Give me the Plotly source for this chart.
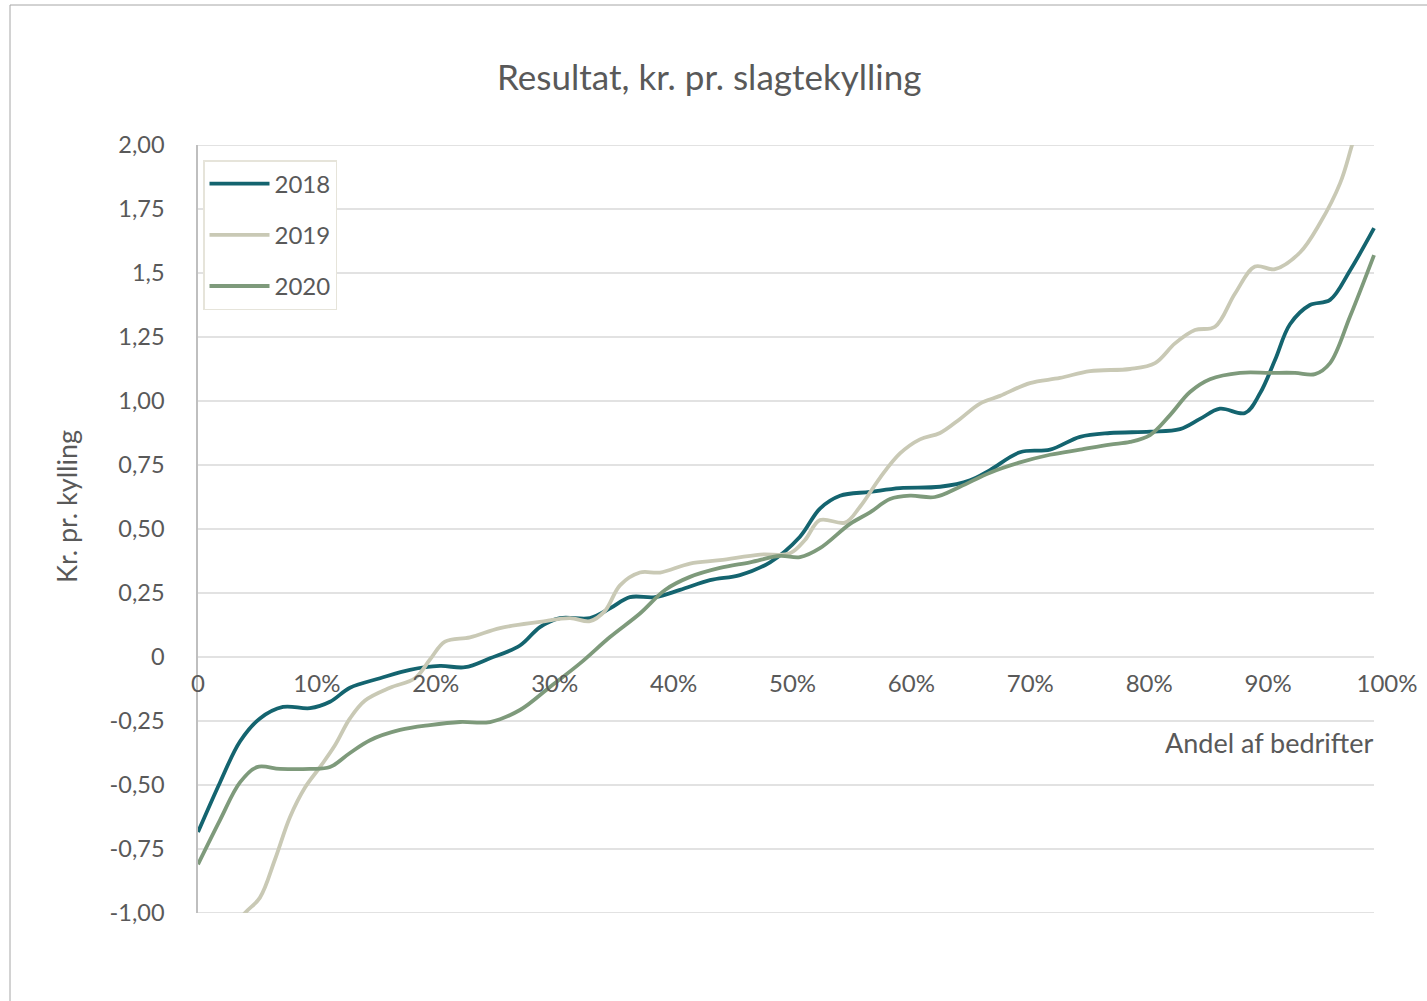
import plotly.graph_objects as go

# ---- data (x = share of farms in %, y = kr. per chicken) ----
x2018 = [0, 1.85, 3.53, 5.21, 7.15, 9.42, 11.10, 12.78, 15.31, 17.83, 20.35, 22.46, 24.56,
         27.08, 28.76, 30.45, 32.97, 34.65, 36.33, 38.44, 40.54, 43.06, 45.58, 48.11, 50.63,
         52.31, 54.0, 56.52, 59.04, 62.41, 64.93, 66.61, 69.13, 71.66, 74.18, 76.70, 80.07,
         82.59, 84.27, 85.95, 88.06, 89.32, 90.58, 91.84, 93.52, 95.21, 96.89, 98.91]
y2018 = [-0.684, -0.49, -0.33, -0.24, -0.195, -0.20, -0.175, -0.12, -0.083, -0.05, -0.035, -0.04,
         -0.005, 0.045, 0.117, 0.152, 0.152, 0.19, 0.234, 0.234, 0.262, 0.30, 0.32, 0.37, 0.47,
         0.58, 0.63, 0.645, 0.66, 0.665, 0.69, 0.73, 0.80, 0.81, 0.86, 0.875, 0.88,
         0.89, 0.93, 0.97, 0.953, 1.03, 1.16, 1.30, 1.375, 1.395, 1.51, 1.675]

x2019 = [0, 2.0, 3.95, 5.21, 6.48, 7.74, 9.0, 10.26, 11.52, 12.78, 14.05, 16.15, 18.25, 19.51,
         20.77, 22.88, 25.40, 28.76, 31.29, 32.97, 34.23, 35.49, 37.17, 38.86, 41.38, 43.90,
         47.27, 49.79, 51.05, 52.31, 54.42, 55.68, 57.36, 59.04, 60.72, 62.41, 64.09, 65.77,
         67.45, 69.97, 72.50, 75.02, 78.39, 80.49, 82.17, 83.85, 85.53, 87.22, 88.90, 90.58,
         92.68, 94.37, 96.05, 97.06, 98.91]
y2019 = [-1.40, -1.12, -1.0, -0.94, -0.79, -0.625, -0.51, -0.43, -0.345, -0.24, -0.17, -0.12,
         -0.083, -0.01, 0.06, 0.077, 0.113, 0.137, 0.152, 0.14, 0.18, 0.28, 0.33, 0.33, 0.365,
         0.378, 0.40, 0.405, 0.457, 0.535, 0.525, 0.587, 0.70, 0.795, 0.85, 0.875, 0.93, 0.99,
         1.02, 1.07, 1.09, 1.117, 1.125, 1.148, 1.225, 1.277, 1.29, 1.42, 1.525, 1.515,
         1.58, 1.695, 1.85, 2.0, 2.3]

x2020 = [0, 1.85, 3.53, 4.96, 6.90, 9.42, 11.10, 12.78, 14.47, 16.99, 19.51, 22.04, 24.56,
         27.08, 29.60, 32.13, 34.65, 37.17, 39.28, 41.38, 43.90, 46.43, 48.95, 50.63, 52.31,
         54.84, 56.52, 58.20, 59.88, 61.98, 64.09, 66.61, 69.13, 71.66, 74.18, 76.70, 78.39,
         80.07, 81.75, 83.43, 85.11, 87.64, 90.16, 92.26, 93.94, 95.21, 96.89, 98.91]
y2020 = [-0.81, -0.637, -0.49, -0.43, -0.437, -0.437, -0.43, -0.375, -0.325, -0.285, -0.266,
         -0.254, -0.254, -0.207, -0.117, -0.025, 0.078, 0.17, 0.262, 0.313, 0.348, 0.37, 0.395,
         0.39, 0.425, 0.52, 0.565, 0.617, 0.63, 0.625, 0.665, 0.72, 0.76, 0.79, 0.81, 0.83,
         0.84, 0.867, 0.945, 1.035, 1.085, 1.11, 1.11, 1.11, 1.105, 1.148, 1.33, 1.57]

series = [("2018", x2018, y2018, "#14646f"),
          ("2019", x2019, y2019, "#c9c9b5"),
          ("2020", x2020, y2020, "#7e9a7b")]

x_ticks = [0, 10, 20, 30, 40, 50, 60, 70, 80, 90, 100]
x_ticklabels = ["0", "10%", "20%", "30%", "40%", "50%", "60%", "70%", "80%", "90%", "100%"]
y_ticks = [2.0, 1.75, 1.5, 1.25, 1.0, 0.75, 0.5, 0.25, 0, -0.25, -0.5, -0.75, -1.0]
y_ticklabels = ["2,00", "1,75", "1,5", "1,25", "1,00", "0,75", "0,50", "0,25", "0",
                "-0,25", "-0,50", "-0,75", "-1,00"]

FONT = "Lato"
TXT = "#595959"
W, H = 1427, 1001
L, R, T, B = 198, 40, 145, 88
PW, PH = W - L - R, H - T - B

fig = go.Figure()
for i, (name, xs, ys, col) in enumerate(series):
    fig.add_trace(go.Scatter(
        x=xs, y=ys, name=name, mode="lines",
        line=dict(color=col, width=3.8, shape="spline", smoothing=1.0),
        legendgroup=name, hoverinfo="x+y+name"))

x_end = max(max(x2018), max(x2020))
shapes = []
for v in y_ticks:
    shapes.append(dict(type="line", xref="x", yref="y", x0=0, x1=x_end, y0=v, y1=v,
                       line=dict(color="#d9d9d9", width=1.5), layer="below"))
# outer chart frame (partially visible at top/left)
shapes.append(dict(type="rect", xref="paper", yref="paper",
                   x0=(10 - L) / PW, x1=(W + 20 - L) / PW,
                   y0=-(B + 20) / PH, y1=1 + (T - 5) / PH,
                   line=dict(color="#a6a6a6", width=1), layer="below"))

ymin, ymax = -1.0, 2.0
fig.update_layout(
    width=W, height=H,
    margin=dict(l=L, r=R, t=T, b=B, autoexpand=False),
    paper_bgcolor="white", plot_bgcolor="white",
    font=dict(family=FONT, color=TXT),
    title=dict(text="Resultat, kr. pr. slagtekylling", x=0.497, xref="container",
               y=1 - 78 / H, yref="container", xanchor="center", yanchor="middle",
               font=dict(size=35, color=TXT, family=FONT)),
    xaxis=dict(range=[0, 100], tickvals=x_ticks, ticktext=x_ticklabels,
               anchor="free", position=(0 - ymin) / (ymax - ymin),
               showgrid=False, zeroline=False, showline=False, automargin=False,
               ticks="", ticklabelstandoff=10,
               tickfont=dict(size=24, color=TXT, family=FONT)),
    yaxis=dict(range=[ymin, ymax], tickvals=y_ticks, ticktext=y_ticklabels,
               showgrid=False, zeroline=False, showline=True, automargin=False,
               linecolor="#bfbfbf", linewidth=1.5,
               ticks="", ticklabelstandoff=27,
               tickfont=dict(size=23.5, color=TXT, family=FONT)),
    legend=dict(x=(203 - L) / PW, y=1 - (160 - T) / PH, xanchor="left", yanchor="top",
                bgcolor="white", bordercolor="#e6e4da", borderwidth=1.5,
                font=dict(size=24, color=TXT, family=FONT),
                itemwidth=60, tracegroupgap=17),
    shapes=shapes,
    annotations=[
        dict(text="Kr. pr. kylling", xref="paper", yref="paper",
             x=(66 - L) / PW, y=(913 - 507) / PH, textangle=-90,
             xanchor="center", yanchor="middle", showarrow=False,
             font=dict(size=27, color=TXT, family=FONT)),
        dict(text="Andel af bedrifter", xref="x", yref="paper",
             x=x_end, y=(913 - 742) / PH, xanchor="right", yanchor="middle",
             showarrow=False, xshift=2,
             font=dict(size=27, color=TXT, family=FONT)),
    ],
)

fig.write_html("out.html", config={"displayModeBar": False},
               post_script="document.body.style.margin='0px';document.body.style.overflow='hidden';")
